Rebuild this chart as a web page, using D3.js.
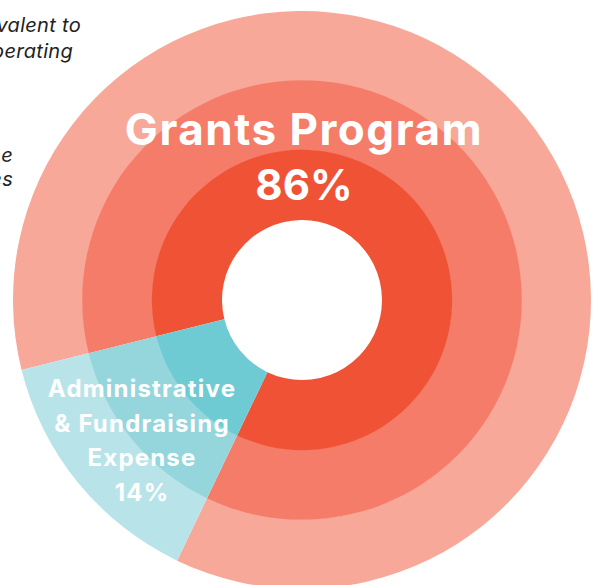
<!DOCTYPE html>
<html>
<head>
<meta charset="utf-8">
<script src="https://cdn.jsdelivr.net/npm/d3@7"></script>
<style>
  html, body { margin: 0; padding: 0; background: #fff; }
  svg { display: block; }
</style>
</head>
<body>
<svg id="chart" width="600" height="585"></svg>
<script>
// ---- data ----
const categories = ["Grants Program", "Administrative & Fundraising Expense"];
const values = [86, 14];
const valueLabels = ["86%", "14%"];
const adminLabelLines = ["Administrative", "& Fundraising", "Expense", "14%"];
const noteLines = ["Grant spending equivalent to", "86% of total operating", "expenses goes to the", "grantees"];
const ringLevels = [0, 1, 2];
const grantColors = ["#F05236", "#F47C68", "#F7A898"];
const adminColors = ["#6FCBD3", "#95D6DC", "#B8E4E9"];

// ---- layout ----
const svg = d3.select("#chart");
const cx = 302, cy = 300;
const rScale = d3.scaleLinear().domain([0, 3]).range([80, 289]);

const pie = d3.pie().sort(null).value(d => d)
  .startAngle(256 * Math.PI / 180)
  .endAngle(256 * Math.PI / 180 + 2 * Math.PI);
const arcsData = pie(values);

const g = svg.append("g").attr("transform", `translate(${cx},${cy})`);

ringLevels.slice().reverse().forEach(level => {
  const arc = d3.arc().innerRadius(rScale(level)).outerRadius(rScale(level + 1) + (level < 2 ? 0.5 : 0));
  g.selectAll(null).data(arcsData).enter().append("path")
    .attr("d", arc)
    .attr("fill", (d, i) => i === 0 ? grantColors[level] : adminColors[level]);
});

// ---- labels ----
const font = "Inter, 'Open Sans', sans-serif";
g.append("text")
  .attr("x", 2).attr("y", -155)
  .attr("text-anchor", "middle")
  .attr("font-family", font).attr("font-weight", 650)
  .attr("font-size", 44).attr("letter-spacing", 1.5).attr("fill", "#fff")
  .text(categories[0]);
g.append("text")
  .attr("x", 2).attr("y", -100)
  .attr("text-anchor", "middle")
  .attr("font-family", font).attr("font-weight", 650)
  .attr("font-size", 42).attr("fill", "#fff")
  .text(valueLabels[0]);

g.selectAll(null).data(adminLabelLines).enter().append("text")
  .attr("x", 142 - cx)
  .attr("y", (d, i) => 397 - cy + i * 34.5)
  .attr("text-anchor", "middle")
  .attr("font-family", font).attr("font-weight", 650)
  .attr("font-size", 24).attr("letter-spacing", 1.2).attr("fill", "#fff")
  .text(d => d);

// ---- side note (partially off-canvas) ----
const noteX = [81, 73, 13, 13];
const noteY = [32, 58, 162, 186];
svg.selectAll(null).data(noteLines).enter().append("text")
  .attr("x", (d, i) => noteX[i])
  .attr("y", (d, i) => noteY[i])
  .attr("text-anchor", "end")
  .attr("font-family", font).attr("font-style", "italic")
  .attr("font-size", 20).attr("letter-spacing", 0.3).attr("fill", "#222")
  .text(d => d);
</script>
</body>
</html>
